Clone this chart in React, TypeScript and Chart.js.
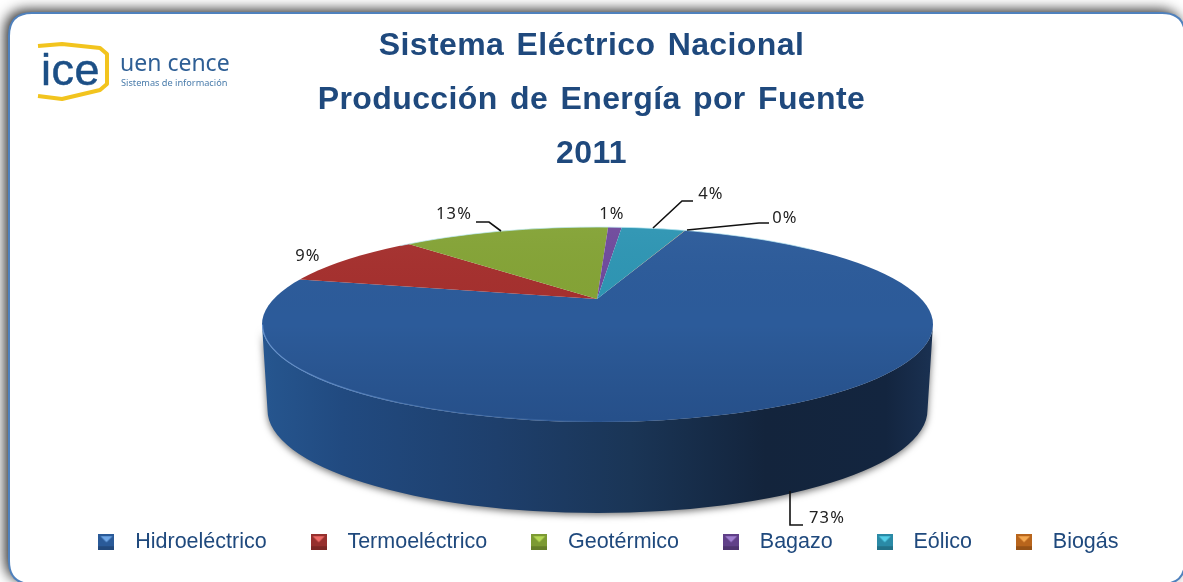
import React, { useEffect, useRef } from "react";
import { Chart, registerables } from "chart.js";

Chart.register(...registerables);

const categories = ["Hidroeléctrico", "Termoeléctrico", "Geotérmico", "Bagazo", "Eólico", "Biogás"];
const shares = [72.6, 8.9, 13.4, 0.9, 4.18, 0.02];
const sliceColors = ["#2c5b9a", "#a5302e", "#84a336", "#6f4a9c", "#2e95b3", "#d9781f"];
const markerLight = ["#6ea6e6", "#ee6a66", "#b5d855", "#a07fd0", "#55cfe8", "#f5a850"];
const markerDark = ["#2a5a98", "#96302e", "#7c9a33", "#604088", "#2a8aa6", "#b8651c"];
const titleLines = ["Sistema Eléctrico Nacional", "Producción de Energía por Fuente", "2011"];

const W = 1183;
const H = 582;
// top face of the disc
const face = { cx: 597.5, cy: 324.5, rx: 335.5, ry: 97.5, apexX: 597, apexY: 299 };
const base = { cx: 597.5, cy: 410, rx: 330, ry: 103 };
const slope = { sx: 500, sy: 149 };

// label text position + leader polyline per slice
const labelSpots = [
  { x: 827, y: 518, line: [[790, 491], [790, 525], [803, 525]] },
  { x: 308, y: 256, line: [] },
  { x: 454, y: 214, line: [[476, 222], [489, 222], [501, 231]] },
  { x: 612, y: 214, line: [] },
  { x: 711, y: 194, line: [[653, 228], [682, 201], [693, 201]] },
  { x: 785, y: 218, line: [[687, 230], [759, 223], [769, 223]] },
];

function marker(i: number) {
  const c = document.createElement("canvas");
  c.width = 16;
  c.height = 16;
  const g = c.getContext("2d")!;
  g.fillStyle = markerDark[i];
  g.fillRect(0, 0, 16, 16);
  g.fillStyle = "rgba(0,0,0,0.18)";
  g.fillRect(0, 12, 16, 4);
  g.fillStyle = markerLight[i];
  g.beginPath();
  g.moveTo(2, 2);
  g.lineTo(14, 2);
  g.lineTo(8, 8);
  g.closePath();
  g.fill();
  return c;
}

function roundedCard(ctx: CanvasRenderingContext2D) {
  const x = 9, y = 13, r = 23, x2 = 1185, y2 = 584;
  ctx.beginPath();
  ctx.moveTo(x + r, y);
  ctx.lineTo(x2 - r, y);
  ctx.quadraticCurveTo(x2, y, x2, y + r);
  ctx.lineTo(x2, y2 - r);
  ctx.quadraticCurveTo(x2, y2, x2 - r, y2);
  ctx.lineTo(x + r, y2);
  ctx.quadraticCurveTo(x, y2, x, y2 - r);
  ctx.lineTo(x, y + r);
  ctx.quadraticCurveTo(x, y, x + r, y);
  ctx.closePath();
}

function drawLogo(ctx: any) {
  ctx.save();
  ctx.strokeStyle = "#f2c41e";
  ctx.lineWidth = 4;
  ctx.lineJoin = "round";
  ctx.beginPath();
  ctx.moveTo(38, 46);
  ctx.lineTo(62, 44);
  ctx.lineTo(100, 48);
  ctx.lineTo(107, 54);
  ctx.lineTo(107, 84);
  ctx.lineTo(100, 90);
  ctx.lineTo(62, 99);
  ctx.lineTo(38, 96);
  ctx.stroke();
  ctx.fillStyle = "#1c4f86";
  ctx.strokeStyle = "#1c4f86";
  ctx.lineWidth = 0.5;
  ctx.textAlign = "left";
  ctx.textBaseline = "alphabetic";
  ctx.font = "45px 'Liberation Sans'";
  ctx.letterSpacing = "0.5px";
  ctx.fillText("ice", 41, 85);
  ctx.strokeText("ice", 41, 85);
  ctx.letterSpacing = "0px";
  ctx.fillStyle = "#2f5f95";
  ctx.font = "23px 'Noto Sans'";
  ctx.fillText("uen cence", 120, 71);
  ctx.fillStyle = "#4a7cab";
  ctx.font = "9.2px 'Noto Sans'";
  ctx.fillText("Sistemas de información", 121, 86);
  ctx.restore();
}

const decor = {
  id: "decor",
  afterLayout(chart: any) {
    const tb = chart.titleBlock;
    if (tb && !tb.__spaced) {
      tb.__spaced = true;
      const d = tb.draw;
      tb.draw = function (...a: any[]) {
        const ctx = chart.ctx as any;
        ctx.letterSpacing = "0.4px";
        ctx.wordSpacing = "3px";
        d.apply(this, a);
        ctx.letterSpacing = "0px";
        ctx.wordSpacing = "0px";
      };
    }
    // the legend row sits right of the page centre
    chart.legend.left += 24;
  },
  beforeDraw(chart: any) {
    const ctx: CanvasRenderingContext2D = chart.ctx;
    ctx.save();
    ctx.fillStyle = "#ffffff";
    ctx.fillRect(0, 0, W, H);
    ctx.shadowColor = "rgba(0,0,0,0.85)";
    ctx.shadowBlur = 13;
    ctx.shadowOffsetX = -4;
    ctx.shadowOffsetY = -3;
    roundedCard(ctx);
    ctx.fillStyle = "#ffffff";
    ctx.fill();
    ctx.shadowColor = "transparent";
    ctx.strokeStyle = "#4f81bd";
    ctx.lineWidth = 2;
    ctx.stroke();
    ctx.restore();
    drawLogo(ctx);
  },
  beforeDatasetsDraw(chart: any) {
    const ctx: CanvasRenderingContext2D = chart.ctx;
    // side wall
    ctx.save();
    ctx.beginPath();
    ctx.moveTo(face.cx - face.rx, face.cy);
    ctx.lineTo(base.cx - base.rx, base.cy);
    ctx.ellipse(base.cx, base.cy, base.rx, base.ry, 0, Math.PI, 0, true);
    ctx.lineTo(face.cx + face.rx, face.cy);
    ctx.ellipse(face.cx, face.cy, face.rx, face.ry, 0, 0, Math.PI, false);
    ctx.closePath();
    const g = ctx.createLinearGradient(262, 0, 933, 0);
    g.addColorStop(0, "#26568f");
    g.addColorStop(0.12, "#214a80");
    g.addColorStop(0.35, "#1e3f6c");
    g.addColorStop(0.55, "#1a3556");
    g.addColorStop(0.75, "#13243c");
    g.addColorStop(0.93, "#13253f");
    g.addColorStop(1, "#1a3152");
    ctx.shadowColor = "rgba(0,0,0,0.55)";
    ctx.shadowBlur = 7;
    ctx.shadowOffsetY = 2;
    ctx.fillStyle = g;
    ctx.fill();
    ctx.restore();
    // top face: library arcs, squashed and clipped to the disc outline
    const arc = chart.getDatasetMeta(0).data[0];
    ctx.save();
    ctx.beginPath();
    ctx.ellipse(face.cx, face.cy, face.rx, face.ry, 0, 0, Math.PI * 2);
    ctx.clip();
    ctx.translate(face.apexX, face.apexY);
    ctx.scale(slope.sx / arc.outerRadius, slope.sy / arc.outerRadius);
    ctx.translate(-arc.x, -arc.y);
  },
  afterDatasetsDraw(chart: any) {
    const ctx: CanvasRenderingContext2D = chart.ctx;
    ctx.restore();
    // soft shading of the face
    ctx.save();
    ctx.beginPath();
    ctx.ellipse(face.cx, face.cy, face.rx, face.ry, 0, 0, Math.PI * 2);
    ctx.clip();
    const g = ctx.createLinearGradient(0, face.cy - face.ry, 0, face.cy + face.ry);
    g.addColorStop(0, "rgba(255,255,255,0.03)");
    g.addColorStop(0.5, "rgba(0,0,0,0)");
    g.addColorStop(1, "rgba(0,10,40,0.14)");
    ctx.fillStyle = g;
    ctx.fillRect(0, 0, W, H);
    ctx.restore();
    // rim highlights
    ctx.save();
    ctx.lineWidth = 1.2;
    const rim = ctx.createLinearGradient(262, 0, 640, 0);
    rim.addColorStop(0, "rgba(120,165,225,0.7)");
    rim.addColorStop(0.6, "rgba(100,145,205,0.35)");
    rim.addColorStop(1, "rgba(90,130,190,0)");
    ctx.strokeStyle = rim;
    ctx.beginPath();
    ctx.ellipse(face.cx, face.cy, face.rx - 0.5, face.ry - 0.5, 0, Math.PI * 0.45, Math.PI, false);
    ctx.stroke();
    ctx.strokeStyle = "rgba(190,235,245,0.7)";
    ctx.lineWidth = 1;
    ctx.beginPath();
    ctx.ellipse(face.cx, face.cy, face.rx, face.ry, 0, Math.PI * 1.3, Math.PI * 1.72, false);
    ctx.stroke();
    ctx.restore();
  },
  afterDraw(chart: any) {
    const ctx: any = chart.ctx;
    ctx.save();
    ctx.strokeStyle = "#111111";
    ctx.lineWidth = 1.6;
    ctx.fillStyle = "#222222";
    ctx.font = "16.5px 'Noto Sans'";
    ctx.letterSpacing = "1.2px";
    ctx.textAlign = "center";
    ctx.textBaseline = "middle";
    labelSpots.forEach((s, i) => {
      if (s.line.length) {
        ctx.beginPath();
        s.line.forEach((p, j) => (j ? ctx.lineTo(p[0], p[1]) : ctx.moveTo(p[0], p[1])));
        ctx.stroke();
      }
      ctx.fillText(Math.round(shares[i]) + "%", s.x, s.y);
    });
    ctx.letterSpacing = "0px";
    ctx.restore();
  },
};

export default function App() {
  const ref = useRef<HTMLCanvasElement>(null);
  useEffect(() => {
    document.body.style.margin = "0";
    const chart = new Chart(ref.current!, {
      type: "pie",
      data: {
        labels: categories,
        datasets: [
          {
            data: shares,
            backgroundColor: sliceColors,
            borderWidth: 0,
            clip: false,
          } as any,
        ],
      },
      plugins: [decor],
      options: {
        responsive: false,
        animation: false,
        rotation: 21,
        layout: { padding: { top: 19, bottom: 19, left: 0, right: 0 } },
        plugins: {
          tooltip: { enabled: false },
          title: {
            display: true,
            text: titleLines,
            color: "#1f497d",
            font: { family: "'Liberation Sans'", size: 32, weight: "bold", lineHeight: 1.6875 },
            padding: 0,
          },
          legend: {
            position: "bottom",
            labels: {
              usePointStyle: true,
              pointStyleWidth: 36,
              padding: 34,
              color: "#1f497d",
              font: { family: "'Liberation Sans'", size: 21.5 },
              generateLabels: () =>
                categories.map((text, i) => ({
                  text,
                  fillStyle: sliceColors[i],
                  fontColor: "#1f497d",
                  strokeStyle: "transparent",
                  lineWidth: 0,
                  pointStyle: marker(i) as any,
                  hidden: false,
                  index: i,
                })),
            },
          },
        },
      } as any,
    });
    return () => chart.destroy();
  }, []);
  return (
    <div style={{ width: W, height: H, overflow: "hidden" }}>
      <canvas ref={ref} width={W} height={H} style={{ display: "block" }} />
    </div>
  );
}
